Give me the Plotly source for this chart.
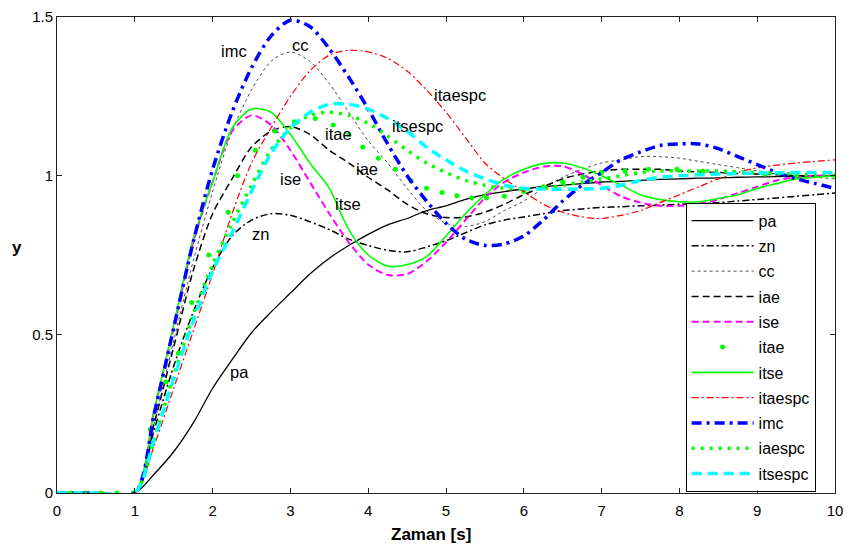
import plotly.graph_objects as go

# Common time base (s) for the continuous step responses
t = [0, 0.5, 1.0, 1.25, 1.5, 1.75, 2.0, 2.25, 2.5, 2.75, 3.0, 3.25, 3.5, 3.75,
     4.0, 4.25, 4.5, 4.75, 5.0, 5.25, 5.5, 5.75, 6.0, 6.25, 6.5, 6.75, 7.0,
     7.25, 7.5, 7.75, 8.0, 8.25, 8.5, 8.75, 9.0, 9.25, 9.5, 9.75, 10.0]

pa = [0, 0, 0, 0.06, 0.13, 0.22, 0.33, 0.42, 0.505, 0.57, 0.63, 0.69, 0.74, 0.78,
      0.815, 0.845, 0.865, 0.89, 0.905, 0.925, 0.94, 0.95, 0.958, 0.965, 0.97, 0.975, 0.98,
      0.982, 0.985, 0.988, 0.99, 0.992, 0.993, 0.995, 0.996, 0.997, 0.998, 0.999, 1.0]

zn = [0, 0, 0, 0.2, 0.4, 0.57, 0.71, 0.81, 0.86, 0.88, 0.875, 0.855, 0.83, 0.80,
      0.78, 0.765, 0.76, 0.775, 0.795, 0.82, 0.845, 0.86, 0.87, 0.88, 0.89, 0.895, 0.9,
      0.902, 0.905, 0.907, 0.91, 0.912, 0.915, 0.92, 0.925, 0.93, 0.935, 0.94, 0.945]

cc = [0, 0, 0, 0.22, 0.48, 0.73, 0.95, 1.14, 1.27, 1.36, 1.39, 1.36, 1.29, 1.2,
      1.11, 1.04, 0.96, 0.89, 0.85, 0.84, 0.855, 0.89, 0.92, 0.96, 0.995, 1.02, 1.04,
      1.05, 1.06, 1.06, 1.055, 1.045, 1.035, 1.025, 1.015, 1.005, 1.0, 0.995, 0.99]

iae = [0, 0, 0, 0.22, 0.46, 0.70, 0.88, 0.99, 1.09, 1.14, 1.155, 1.13, 1.08, 1.04,
       0.995, 0.955, 0.91, 0.88, 0.868, 0.87, 0.885, 0.91, 0.94, 0.965, 0.99, 1.005, 1.015,
       1.02, 1.02, 1.02, 1.015, 1.012, 1.01, 1.007, 1.005, 1.003, 1.0, 1.0, 1.0]

ise = [0, 0, 0, 0.26, 0.52, 0.79, 0.98, 1.14, 1.19, 1.16, 1.08, 0.98, 0.88, 0.79,
       0.72, 0.687, 0.69, 0.73, 0.79, 0.86, 0.93, 0.98, 1.01, 1.028, 1.03, 1.005, 0.97,
       0.935, 0.915, 0.905, 0.905, 0.91, 0.925, 0.945, 0.965, 0.985, 0.995, 1.0, 1.0]

itse = [0, 0, 0, 0.26, 0.53, 0.80, 0.98, 1.15, 1.21, 1.20, 1.13, 1.04, 0.96, 0.83,
        0.75, 0.715, 0.72, 0.745, 0.81, 0.88, 0.94, 0.99, 1.02, 1.038, 1.04, 1.025, 1.0,
        0.97, 0.94, 0.925, 0.918, 0.918, 0.928, 0.94, 0.96, 0.975, 0.99, 0.995, 1.0]

itaespc = [0, 0, 0, 0.15, 0.33, 0.51, 0.69, 0.88, 1.04, 1.15, 1.25, 1.33, 1.38, 1.395,
           1.39, 1.37, 1.33, 1.27, 1.2, 1.12, 1.04, 0.99, 0.95, 0.91, 0.885, 0.87, 0.865,
           0.875, 0.89, 0.915, 0.94, 0.965, 0.99, 1.01, 1.025, 1.033, 1.04, 1.045, 1.05]

imc = [0, 0, 0, 0.25, 0.52, 0.79, 1.02, 1.2, 1.34, 1.44, 1.49, 1.47, 1.40, 1.31,
       1.21, 1.10, 1.0, 0.92, 0.85, 0.80, 0.78, 0.785, 0.81, 0.86, 0.92, 0.97, 1.01,
       1.05, 1.075, 1.095, 1.10, 1.10, 1.085, 1.06, 1.035, 1.01, 0.99, 0.975, 0.96]

iaespc = [0, 0, 0, 0.17, 0.37, 0.56, 0.72, 0.85, 0.97, 1.08, 1.15, 1.19, 1.2, 1.19,
          1.165, 1.125, 1.08, 1.04, 1.01, 0.985, 0.97, 0.96, 0.958, 0.96, 0.97, 0.98, 0.99,
          1.0, 1.01, 1.015, 1.015, 1.015, 1.015, 1.012, 1.01, 1.007, 1.005, 1.002, 1.0]

itsespc = [0, 0, 0, 0.17, 0.36, 0.54, 0.70, 0.82, 0.95, 1.07, 1.15, 1.20, 1.225, 1.225,
           1.21, 1.18, 1.14, 1.09, 1.05, 1.015, 0.99, 0.97, 0.96, 0.958, 0.957, 0.958, 0.96,
           0.97, 0.985, 0.995, 1.0, 1.003, 1.005, 1.007, 1.008, 1.009, 1.01, 1.01, 1.01]

# itae is plotted as solver output points (markers only)
t_itae = [0, 0.18, 0.37, 0.56, 0.77, 0.98, 1.2, 1.4, 1.56, 1.73, 1.95, 2.2, 2.32, 2.55,
          2.8, 3.05, 3.32, 3.55, 3.75, 3.93, 4.13, 4.35, 4.55, 4.75, 4.95, 5.14, 5.33,
          5.52, 5.75, 6.0, 6.25, 6.5, 6.76, 7.0, 7.3, 7.6, 7.97, 8.3, 8.7, 9.1, 9.5, 10.0]
itae = [0, 0, 0, 0, 0, 0, 0.2, 0.35, 0.44, 0.6, 0.75, 0.885, 1.0, 1.08,
        1.14, 1.17, 1.18, 1.16, 1.13, 1.09, 1.055, 1.02, 0.985, 0.96, 0.947, 0.937, 0.93,
        0.93, 0.935, 0.95, 0.965, 0.98, 0.995, 1.01, 1.015, 1.02, 1.02, 1.015, 1.01, 1.005, 1.0, 1.0]

x_ticks = [0, 1, 2, 3, 4, 5, 6, 7, 8, 9, 10]
y_ticks = [0, 0.5, 1, 1.5]
y_tick_text = ["0", "0.5", "1", "1.5"]

# Curve labels placed inside the axes
label_text = ["imc", "cc", "itaespc", "itsespc", "itae", "iae", "ise", "itse", "zn", "pa"]
label_x = [2.275, 3.124, 5.18, 4.63, 3.612, 3.985, 2.995, 3.74, 2.622, 2.352]
label_y = [1.392, 1.413, 1.253, 1.157, 1.132, 1.02, 0.99, 0.912, 0.817, 0.38]

# name, y-data, colour, width, dash
styles = [
    ("pa", pa, "#000000", 1.3, "solid"),
    ("zn", zn, "#000000", 1.5, "7px,3px,2px,3px"),
    ("cc", cc, "#000000", 0.7, "3px,3px"),
    ("iae", iae, "#000000", 1.5, "7px,4px"),
    ("ise", ise, "#ff00ff", 2.0, "7px,4px"),
    ("itae", None, None, None, None),
    ("itse", itse, "#00ff00", 1.6, "solid"),
    ("itaespc", itaespc, "#ff0000", 1.2, "7px,3px,2px,3px"),
    ("imc", imc, "#0000ff", 3.5, "10px,5px,3px,5px"),
    ("iaespc", iaespc, "#00ff00", 3.5, "3px,6px"),
    ("itsespc", itsespc, "#00ffff", 3.5, "10px,6px"),
]

fig = go.Figure()
for name, yv, col, w, dash in styles:
    if name == "itae":
        fig.add_trace(go.Scatter(
            x=t_itae, y=itae, mode="markers", name=name, legendgroup=name,
            marker=dict(color="#00ff00", size=5, symbol="circle"),
        ))
        continue
    fig.add_trace(go.Scatter(
        x=t, y=yv, mode="lines", name=name, legendgroup=name,
        line=dict(color=col, width=w, dash=dash, shape="spline", smoothing=0.8),
    ))

font_family = "Liberation Sans, Arial, Helvetica, sans-serif"

annotations = [
    dict(x=xv, y=yv, text=txt, showarrow=False, xref="x", yref="y",
         font=dict(family=font_family, size=16.5, color="#000000"))
    for txt, xv, yv in zip(label_text, label_x, label_y)
]
annotations.append(dict(x=0.481, y=-0.087, xref="paper", yref="paper", text="<b>Zaman [s]</b>",
                        xanchor="center", yanchor="middle", showarrow=False,
                        font=dict(family=font_family, size=17, color="#000000")))
annotations.append(dict(x=-0.0514, y=0.515, xref="paper", yref="paper", text="<b>y</b>",
                        xanchor="center", yanchor="middle", showarrow=False,
                        font=dict(family=font_family, size=17, color="#000000")))

axis_common = dict(
    showgrid=False, zeroline=False, showline=True, linecolor="#222222", linewidth=1,
    mirror="ticks", ticks="inside", ticklen=5, tickcolor="#222222",
    ticklabeloverflow="allow",
    tickfont=dict(family=font_family, size=15, color="#000000"),
)

fig.update_layout(
    width=851, height=554,
    margin=dict(l=57, r=16, t=8, b=61),
    paper_bgcolor="white", plot_bgcolor="white",
    xaxis=dict(range=[0, 10], tickvals=x_ticks, ticklabelstandoff=4, **axis_common),
    yaxis=dict(range=[0, 1.5], tickvals=y_ticks, ticktext=y_tick_text, **axis_common),
    annotations=annotations,
    showlegend=True,
    legend=dict(
        x=0.808, y=0.61, xanchor="left", yanchor="top",
        bordercolor="#000000", borderwidth=1, bgcolor="white",
        font=dict(family=font_family, size=16, color="#000000"),
        tracegroupgap=1.5, itemwidth=62,
    ),
)

fig.write_html("out.html")
